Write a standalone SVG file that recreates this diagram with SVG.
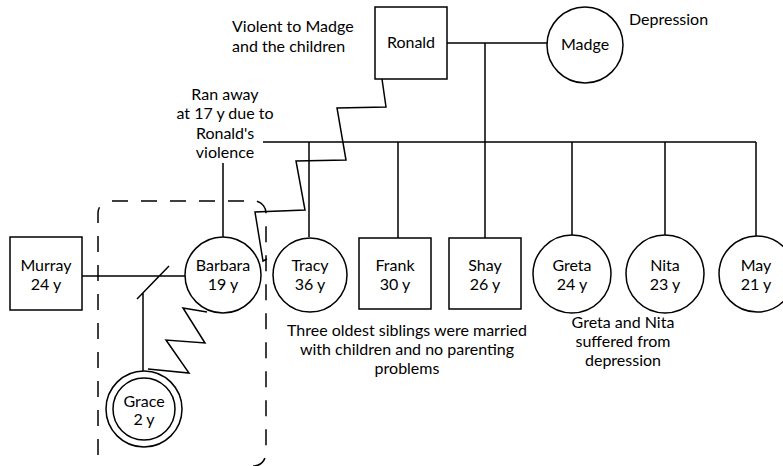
<svg xmlns="http://www.w3.org/2000/svg" width="783" height="466" viewBox="0 0 783 466">
<style>
text{font-family:Lato,"Open Sans","DejaVu Sans",sans-serif;font-size:16px;fill:#000;text-anchor:middle}
.l{text-anchor:start}
.s{fill:#fff;stroke:#000;stroke-width:1.5}
.c{fill:none;stroke:#000;stroke-width:1.5}
.d{fill:none;stroke:#000;stroke-width:1.5;stroke-dasharray:16 13}
</style>
<rect width="783" height="466" fill="#fff"/>
<g id="connectors">
<path class="c" d="M447 43H548M485 43V238M263 142H756M223 163V237M309 142V237M398 142V238M572 142V235M665 142V235M756 142V237"/>
<path class="c" d="M82 276H185M137 299L169 266M143 293V371"/>
<path class="c" d="M207 312L183 308L205 343L166 340L189 373L148 369"/>
<path class="c" d="M382 79L386 107L337 108L346 160L296 161L305 210L255 212L263 261L267 259"/>
</g>
<g id="household"><path class="d" d="M112 201H255A12 12 0 0 1 266 213V453A13 13 0 0 1 253 466M98 455V213A12 12 0 0 1 110 201"/></g>
<g id="ronald"><rect class="s" x="375" y="7" width="72" height="72"/><text x="411" y="48">Ronald</text></g>
<g id="madge"><circle class="s" cx="585" cy="45" r="38"/><text x="585" y="50">Madge</text></g>
<g id="murray"><rect class="s" x="10" y="237" width="72" height="73"/><text x="46" y="271">Murray</text><text x="46" y="290">24 y</text></g>
<g id="barbara"><circle class="s" cx="223" cy="275" r="38"/><text x="223" y="271">Barbara</text><text x="223" y="290">19 y</text></g>
<g id="grace"><circle class="s" cx="144" cy="409" r="38"/><circle class="c" cx="144" cy="409" r="31"/><text x="144" y="407">Grace</text><text x="144" y="425">2 y</text></g>
<g id="tracy"><circle class="s" cx="310" cy="275" r="37"/><text x="310" y="271">Tracy</text><text x="310" y="290">36 y</text></g>
<g id="frank"><rect class="s" x="359" y="238" width="72" height="71"/><text x="395" y="271">Frank</text><text x="395" y="290">30 y</text></g>
<g id="shay"><rect class="s" x="449" y="238" width="72" height="71"/><text x="485" y="271">Shay</text><text x="485" y="290">26 y</text></g>
<g id="greta"><circle class="s" cx="572" cy="274" r="39"/><text x="572" y="271">Greta</text><text x="572" y="290">24 y</text></g>
<g id="nita"><circle class="s" cx="665" cy="274" r="39"/><text x="665" y="271">Nita</text><text x="665" y="290">23 y</text></g>
<g id="may"><circle class="s" cx="757" cy="274" r="38"/><text x="756" y="271">May</text><text x="756" y="290">21 y</text></g>
<g id="notes">
<text class="l" x="232" y="32">Violent to Madge</text>
<text class="l" x="232" y="52">and the children</text>
<text class="l" x="629" y="25">Depression</text>
<text x="225" y="100">Ran away</text>
<text x="225" y="119">at 17 y due to</text>
<text x="225" y="139">Ronald's</text>
<text x="225" y="158">violence</text>
<text x="407" y="336">Three oldest siblings were married</text>
<text x="407" y="355">with children and no parenting</text>
<text x="407" y="374">problems</text>
<text x="623" y="328">Greta and Nita</text>
<text x="623" y="347">suffered from</text>
<text x="623" y="366">depression</text>
</g>
</svg>
